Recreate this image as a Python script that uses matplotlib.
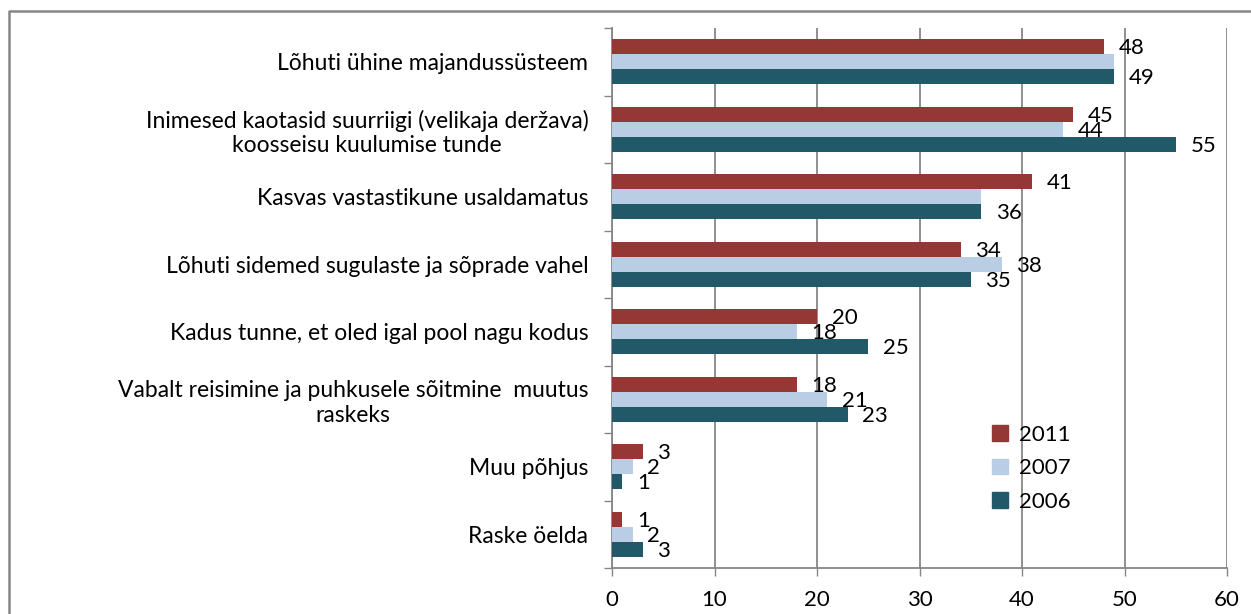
import matplotlib
matplotlib.use('Agg')
import matplotlib.pyplot as plt
from matplotlib.patches import Patch
from matplotlib.lines import Line2D
import numpy as np

plt.rcParams['font.family'] = ['Lato', 'DejaVu Sans']

categories = [
    'Lõhuti ühine majandussüsteem',
    'Inimesed kaotasid suurriigi (velikaja deržava)\nkoosseisu kuulumise tunde',
    'Kasvas vastastikune usaldamatus',
    'Lõhuti sidemed sugulaste ja sõprade vahel',
    'Kadus tunne, et oled igal pool nagu kodus',
    'Vabalt reisimine ja puhkusele sõitmine  muutus\nraskeks',
    'Muu põhjus',
    'Raske öelda',
]
years = ['2011', '2007', '2006']
v2011 = [48, 45, 41, 34, 20, 18, 3, 1]
v2007 = [49, 44, 36, 38, 18, 21, 2, 2]
v2006 = [49, 55, 36, 35, 25, 23, 1, 3]
# labels that Excel dropped (same value as the bar below)
hide2007 = [True, False, True, False, False, False, False, False]

colors = ['#953735', '#B9CDE5', '#215968']
grid_c = '#868686'

fig = plt.figure(figsize=(12.51, 6.14), dpi=100)
ax = fig.add_axes([612/1251, 1 - 568/614, 615/1251, 540/614])

y = np.arange(len(categories))
h = 0.222
series = [v2011, v2007, v2006]
for i, vals in enumerate(series):
    pos = y + (i - 1) * h
    ax.barh(pos, vals, height=h, color=colors[i], label=years[i], zorder=3)
    for j, v in enumerate(vals):
        if i == 1 and hide2007[j]:
            continue
        ax.annotate(str(v), (v, pos[j]), xytext=(10.5, -1), textcoords='offset points',
                    ha='left', va='center', fontsize=16, color='black', zorder=4)

ax.set_xlim(0, 60)
ax.set_ylim(len(categories) - 0.5, -0.5)
ax.set_xticks(np.arange(0, 61, 10))
ax.xaxis.grid(True, color=grid_c, linewidth=1.3, zorder=0)
ax.tick_params(axis='x', direction='out', length=6, width=1, color=grid_c,
               labelsize=16, pad=10)

ax.set_yticks(np.arange(-0.5, len(categories), 1))
ax.set_yticklabels([])
ax.tick_params(axis='y', which='major', direction='out', length=6, width=1, color=grid_c)
ax.set_yticks(y, minor=True)
ax.set_yticklabels(categories, minor=True, fontsize=16.5, multialignment='center')
ax.tick_params(axis='y', which='minor', length=0, pad=17)

for s in ['top', 'right']:
    ax.spines[s].set_visible(False)
for s in ['left', 'bottom']:
    ax.spines[s].set_color(grid_c)
    ax.spines[s].set_linewidth(1.3)

handles = [Patch(color=c) for c in colors]
fig.legend(handles, years, loc='upper left', bbox_to_anchor=(972/1251, 1 - 405/614),
           frameon=False, fontsize=16, handlelength=0.7, handleheight=0.7,
           handletextpad=0.5, labelspacing=0.6)

# outer chart border (only top and left visible in the crop)
fig.add_artist(Line2D([8.5/1251, 8.5/1251, 1.0], [0.0, 1 - 10.5/614, 1 - 10.5/614],
                      transform=fig.transFigure, color=grid_c, linewidth=1.8))

fig.savefig('out.png', dpi=100)
